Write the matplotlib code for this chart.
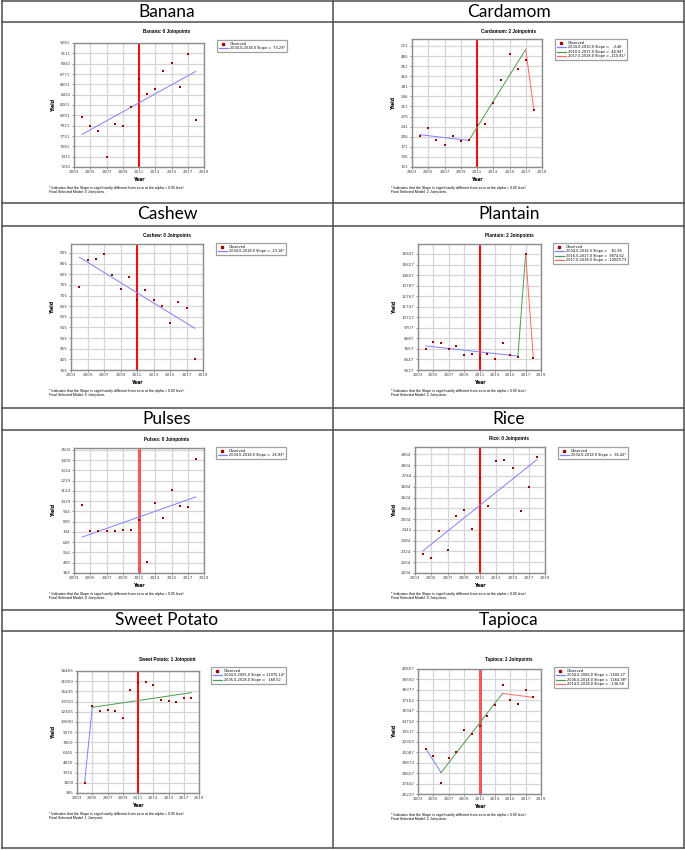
"""
Joinpoint trends of crop yield, 2004-2018
"""

import matplotlib
matplotlib.use("Agg")
import matplotlib.pyplot as plt
from matplotlib.lines import Line2D

W, H = 685, 850

years = list(range(2004, 2019))

# observed yields
banana_obs = [8064, 7910, 7833, 7405, 7954, 7916, 8228, 8694, 8442, 8524, 8815, 8957, 8552, 9105, 8009]
cardamom_obs = [210, 238, 194, 179, 208, 191, 193, 247, 249, 322, 404, 494, 441, 472, 298]
cashew_obs = [744, 874, 877, 899, 801, 734, 794, 682, 730, 682, 656, 576, 673, 648, 406]
plantain_obs = [7615, 8353, 8193, 7615, 7968, 7070, 7166, 6749, 7166, 6653, 8257, 7102, 6910, 16847, 6813]
pulses_obs = [994, 751, 757, 757, 757, 761, 761, 850, 465, 1013, 877, 1129, 985, 970, 1421]
rice_obs = [2309, 2285, 2435, 2333, 2520, 2556, 2451, 2734, 2577, 2826, 2835, 2789, 2547, 2684, 2848]
sweet_potato_obs = [1800, 13178, 12487, 12635, 12438, 11400, 15599, 16735, 16884, 16439, 14117, 13969, 13919, 14414, 14463]
tapioca_obs = [31528, 30671, 27474, 30437, 31087, 33672, 33243, 34179, 35270, 36596, 38896, 37141, 36751, 38377, 37492]

# fitted joinpoint segments: joint years and modelled values
banana_fit_years = [2004, 2018]
banana_fit = [7778, 8815]
cardamom_fit_years = [2004, 2010, 2017, 2018]
cardamom_fit = [213, 193, 509, 298]
cashew_fit_years = [2004, 2018]
cashew_fit = [885, 551]
plantain_fit_years = [2004, 2016, 2017, 2018]
plantain_fit = [7955, 6972, 16847, 6817]
pulses_fit_years = [2004, 2018]
pulses_fit = [696, 1068]
rice_fit_years = [2004, 2018]
rice_fit = [2328, 2835]
sweet_potato_fit_years = [2004, 2005, 2018]
sweet_potato_fit = [1850, 13050, 15240]
tapioca_fit_years = [2004, 2006, 2014, 2018]
tapioca_fit = [31528, 28722, 37960, 37492]

# legend slope labels
banana_slopes = ["2004.0-2018.0 Slope =  73.29*"]
cardamom_slopes = ["2004.0-2010.0 Slope =   -3.46", "2010.0-2017.0 Slope =  44.94*",
                   "2017.0-2018.0 Slope = -210.81*"]
cashew_slopes = ["2004.0-2018.0 Slope = -23.18*"]
plantain_slopes = ["2004.0-2016.0 Slope =   -81.96", "2016.0-2017.0 Slope =  9874.62",
                   "2017.0-2018.0 Slope = -10029.73"]
pulses_slopes = ["2004.0-2018.0 Slope =  26.93*"]
rice_slopes = ["2004.0-2018.0 Slope =  36.42*"]
sweet_potato_slopes = ["2004.0-2005.0 Slope = 11075.14*", "2005.0-2018.0 Slope =   168.52"]
tapioca_slopes = ["2004.0-2006.0 Slope = -1500.27", "2006.0-2014.0 Slope =  1164.38*",
                  "2014.0-2018.0 Slope =  -136.58"]

# y tick labels
banana_ticks = [7241, 7411, 7581, 7751, 7921, 8091, 8261, 8431, 8601, 8771, 8941, 9111, 9281]
cardamom_ticks = [101, 136, 171, 206, 241, 276, 311, 346, 381, 416, 451, 486, 521]
cashew_ticks = [355, 405, 455, 505, 555, 605, 655, 705, 755, 805, 855, 905]
plantain_ticks = [5627, 6647, 7667, 8687, 9707, 10727, 11747, 12767, 13787, 14807, 15827, 16847]
pulses_ticks = [364, 459, 554, 649, 744, 839, 934, 1029, 1124, 1219, 1314, 1409, 1504]
rice_ticks = [2204, 2264, 2324, 2384, 2444, 2504, 2564, 2624, 2684, 2744, 2804, 2864]
sweet_potato_ticks = [285, 1800, 3315, 4830, 6345, 7860, 9375, 10890, 12405, 13920, 15435, 16950, 18465]
tapioca_ticks = [26227, 27442, 28657, 29872, 31087, 32302, 33517, 34732, 35947, 37162, 38377, 39592, 40807]

# upper y limit of each plot frame
y_tops = {"Banana": 9281, "Cardamom": 545, "Cashew": 947, "Plantain": 17809,
          "Pulses": 1520, "Rice": 2905, "Sweet Potato": 18465, "Tapioca": 40807}

panels = [
    ("Banana", banana_obs, banana_fit_years, banana_fit, banana_slopes, banana_ticks, 0),
    ("Cardamom", cardamom_obs, cardamom_fit_years, cardamom_fit, cardamom_slopes, cardamom_ticks, 2),
    ("Cashew", cashew_obs, cashew_fit_years, cashew_fit, cashew_slopes, cashew_ticks, 0),
    ("Plantain", plantain_obs, plantain_fit_years, plantain_fit, plantain_slopes, plantain_ticks, 2),
    ("Pulses", pulses_obs, pulses_fit_years, pulses_fit, pulses_slopes, pulses_ticks, 0),
    ("Rice", rice_obs, rice_fit_years, rice_fit, rice_slopes, rice_ticks, 0),
    ("Sweet Potato", sweet_potato_obs, sweet_potato_fit_years, sweet_potato_fit, sweet_potato_slopes,
     sweet_potato_ticks, 1),
    ("Tapioca", tapioca_obs, tapioca_fit_years, tapioca_fit, tapioca_slopes, tapioca_ticks, 2),
]

# layout in pixels: plot frame (left, top, right, bottom), legend (left, top), plot title y
layout = {
    "Banana": ((74, 43, 204, 167), (217, 40), 31),
    "Cardamom": ((412, 39, 542, 167), (555, 39), 31),
    "Cashew": ((71, 244, 203, 370), (216, 243), 235),
    "Plantain": ((418, 244, 541, 370), (553, 243), 235),
    "Pulses": ((74, 448, 204, 573), (216, 447), 439),
    "Rice": ((415, 447, 545, 573), (558, 447), 438),
    "Sweet Potato": ((77, 671, 199, 793), (211, 667), 659),
    "Tapioca": ((418, 669, 541, 794), (554, 667), 659),
}
header_y = [12, 214, 419, 620]
seg_colors = ["#8080ff", "#4e9a4e", "#ff6868"]

fig = plt.figure(figsize=(W / 100, H / 100), dpi=100)

# table lines
grid_ax = fig.add_axes([0, 0, 1, 1], zorder=-5)
grid_ax.set_xlim(0, W)
grid_ax.set_ylim(H, 0)
grid_ax.axis("off")
for y in [1, 22, 203, 226, 408, 430, 610, 631, 848]:
    grid_ax.plot([2, 684], [y, y], color="#4d4d4d", lw=1.1)
for x in [2, 333, 684]:
    grid_ax.plot([x, x], [1, 848], color="#4d4d4d", lw=1.1)

for i, (name, obs, fy, fv, slopes, ticks, njp) in enumerate(panels):
    col, row = i % 2, i // 2
    cx = 167 if col == 0 else 509
    (l, t, r, b), (lx, ly), ty = layout[name]

    grid_ax.text(cx, header_y[row], name, ha="center", va="center", fontsize=12.5, family="Lato")
    jp = "Joinpoint" if njp == 1 else "Joinpoints"
    grid_ax.text(cx, ty, f"{name}: {njp} {jp}", ha="center", va="center", fontsize=3.3,
                 fontweight="bold", family="Liberation Sans")
    fx = 49 if col == 0 else 391
    grid_ax.text(fx, b + 21, "* Indicates that the Slope is significantly different from zero at the "
                 "alpha = 0.05 level.", fontsize=2.6, va="center", family="Liberation Sans")
    grid_ax.text(fx, b + 25, f"Final Selected Model: {njp} {jp}.", fontsize=2.6, va="center",
                 family="Liberation Sans")

    ax = fig.add_axes([l / W, 1 - b / H, (r - l) / W, (b - t) / H])
    ax.set_xlim(2003, 2019)
    ax.set_ylim(ticks[0], y_tops[name])
    ax.set_xticks(range(2003, 2020, 2))
    ax.set_yticks(ticks)
    ax.grid(color="#d6d6d6", lw=0.9)
    ax.set_axisbelow(True)
    for s in ax.spines.values():
        s.set_color("#8c8c8c")
        s.set_linewidth(1.0)
    ax.tick_params(labelsize=3, length=1.5, width=0.4, pad=1, colors="#444444")

    red_lw = 2.2 if name in ("Pulses", "Tapioca") else 1.5
    red_c = "#f05a5a" if name in ("Pulses", "Tapioca") else "#ee1111"
    ax.axvline(2011, color=red_c, lw=red_lw, zorder=2)

    handles = [Line2D([], [], ls="none", marker="s", ms=1.6, color="#a00000")]
    for k in range(len(fy) - 1):
        ax.plot(fy[k:k + 2], fv[k:k + 2], color=seg_colors[k], lw=0.7, zorder=3)
        handles.append(Line2D([], [], color=seg_colors[k], lw=0.9))
    ax.scatter(years, obs, marker="s", s=3.2, color="#a00000", zorder=4, linewidths=0)

    ax.set_xlabel("Year", fontsize=3.3, fontweight="bold", labelpad=2)
    ax.set_ylabel("Yield", fontsize=3.3, fontweight="bold", labelpad=3)

    leg = fig.legend(handles, ["Observed"] + slopes, loc="upper left",
                     bbox_to_anchor=(lx / W, 1 - ly / H), fontsize=2.5, frameon=True,
                     fancybox=False, edgecolor="#888888", handlelength=2.6, handletextpad=0.6,
                     borderpad=0.5, labelspacing=0.15, borderaxespad=0)
    leg.get_frame().set_linewidth(0.9)

fig.savefig("out.png", dpi=100, facecolor="white")
